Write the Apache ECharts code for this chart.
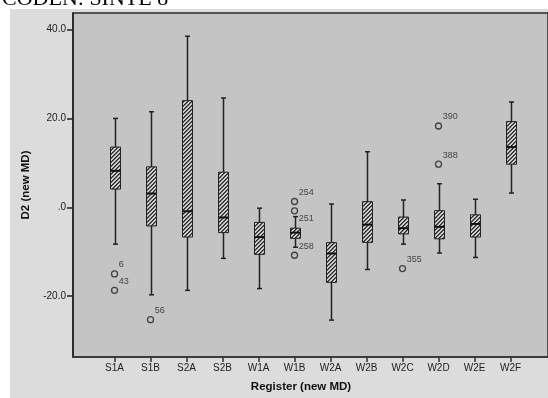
<!DOCTYPE html>
<html>
<head>
<meta charset="utf-8">
<script src="https://cdn.jsdelivr.net/npm/echarts@6/dist/echarts.min.js"></script>
<style>
  html, body { margin: 0; padding: 0; background: #fff; }
  #chart { width: 548px; height: 398px; }
</style>
</head>
<body>
<div id="chart"></div>
<script>
// register groups on the x axis
const categories = ['S1A', 'S1B', 'S2A', 'S2B', 'W1A', 'W1B', 'W2A', 'W2B', 'W2C', 'W2D', 'W2E', 'W2F'];

// box plot statistics
const whiskerLow = [-8.3, -19.7, -18.7, -11.5, -18.3, -9.0, -25.4, -14.0, -8.3, -10.3, -11.3, 3.2];
const q1 = [4.1, -4.2, -6.7, -5.7, -10.6, -7.0, -16.9, -7.9, -6.0, -7.1, -6.7, 9.7];
const median = [8.2, 3.1, -0.9, -2.3, -6.7, -5.7, -10.4, -3.9, -4.7, -4.4, -3.75, 13.55];
const q3 = [13.55, 9.1, 24.0, 7.9, -3.4, -4.7, -7.95, 1.26, -2.2, -0.76, -1.7, 19.3];
const whiskerHigh = [20.0, 21.5, 38.5, 24.6, -0.2, -2.1, 0.74, 12.5, 1.64, 5.3, 1.8, 23.7];

// outliers with their case numbers
const outlierGroup = ['S1A', 'S1A', 'S1B', 'W1B', 'W1B', 'W1B', 'W2C', 'W2D', 'W2D'];
const outlierValue = [-15.0, -18.7, -25.3, 1.3, -0.8, -10.8, -13.8, 18.3, 9.7];
const outlierCase = ['6', '43', '56', '254', '251', '258', '355', '390', '388'];

const yTicks = [-20, 0, 20, 40];

// diagonal hatch used to fill the boxes
const makeHatch = () => {
  const c = document.createElement('canvas');
  c.width = 4;
  c.height = 4;
  const ctx = c.getContext('2d');
  const img = ctx.createImageData(4, 4);
  for (let y = 0; y < 4; y++) {
    for (let x = 0; x < 4; x++) {
      const k = (x + y) % 4;
      const v = k === 0 ? 40 : k === 1 ? 95 : k === 2 ? 215 : 190;
      const p = (y * 4 + x) * 4;
      img.data[p] = v;
      img.data[p + 1] = v;
      img.data[p + 2] = v;
      img.data[p + 3] = 255;
    }
  }
  ctx.putImageData(img, 0, 0);
  return c;
};
const hatch = { image: makeHatch(), repeat: 'repeat' };

const boxData = categories.map((c, i) => [i, whiskerLow[i], q1[i], median[i], q3[i], whiskerHigh[i]]);

const labelDy = { '251': 8 };
const outlierData = outlierGroup.map((g, k) => ({
  value: [categories.indexOf(g), outlierValue[k], outlierCase[k]],
  label: { offset: [0, labelDy[outlierCase[k]] !== undefined ? labelDy[outlierCase[k]] : -9] }
}));

const chart = echarts.init(document.getElementById('chart'), null, { renderer: 'canvas' });

const renderBox = (params, api) => {
  const i = api.value(0);
  const lo = api.coord([i, api.value(1)]);
  const b1 = api.coord([i, api.value(2)]);
  const md = api.coord([i, api.value(3)]);
  const b3 = api.coord([i, api.value(4)]);
  const hi = api.coord([i, api.value(5)]);
  const x = Math.round(lo[0]) + 0.5;
  const half = 5;
  const cap = 2.5;
  const dark = '#222';
  return {
    type: 'group',
    children: [
      { type: 'line', shape: { x1: x, y1: hi[1], x2: x, y2: lo[1] }, style: { stroke: dark, lineWidth: 1.5 } },
      { type: 'line', shape: { x1: x - cap, y1: hi[1], x2: x + cap, y2: hi[1] }, style: { stroke: dark, lineWidth: 1.5 } },
      { type: 'line', shape: { x1: x - cap, y1: lo[1], x2: x + cap, y2: lo[1] }, style: { stroke: dark, lineWidth: 1.5 } },
      {
        type: 'rect',
        shape: { x: x - half, y: b3[1], width: half * 2, height: b1[1] - b3[1] },
        style: { fill: hatch, stroke: dark, lineWidth: 1 }
      },
      { type: 'line', shape: { x1: x - half, y1: md[1], x2: x + half, y2: md[1] }, style: { stroke: '#111', lineWidth: 2 } }
    ]
  };
};

chart.setOption({
  animation: false,
  graphic: [
    {
      type: 'text',
      z: -2,
      style: { text: 'CODEN: SINTE 8', x: 2, y: -1, verticalAlign: 'middle', font: '22px "Liberation Serif"', fill: '#000' }
    },
    {
      type: 'rect',
      z: -1,
      shape: { x: 10, y: 9, width: 560, height: 400 },
      style: { fill: '#dcdcdc' },
      silent: true
    }
  ],
  grid: {
    show: true,
    left: 73,
    top: 13,
    right: -2,
    bottom: 41,
    backgroundColor: '#c4c4c4',
    borderColor: '#2a2a2a',
    borderWidth: 1.5
  },
  xAxis: {
    type: 'value',
    min: -1.1535,
    max: 12.041,
    name: 'Register (new MD)',
    nameLocation: 'middle',
    nameGap: 24,
    nameTextStyle: { fontFamily: 'Liberation Sans', fontWeight: 'bold', fontSize: 11.5, color: '#111', padding: [0, 19, 0, 0] },
    splitLine: { show: false },
    axisLine: { show: true, onZero: false, lineStyle: { color: '#333', width: 1.5 } },
    axisTick: { show: true, length: 5, customValues: categories.map((c, i) => i), lineStyle: { color: '#333', width: 1.5 } },
    axisLabel: {
      customValues: categories.map((c, i) => i),
      formatter: v => categories[v],
      margin: 6,
      fontFamily: 'Liberation Sans',
      fontSize: 10,
      color: '#222'
    }
  },
  yAxis: {
    type: 'value',
    min: -33.7,
    max: 43.73,
    name: 'D2 (new MD)',
    nameLocation: 'middle',
    nameGap: 33,
    nameTextStyle: { fontFamily: 'Liberation Sans', fontWeight: 'bold', fontSize: 11.5, color: '#111' },
    splitLine: { show: false },
    axisLine: { show: true, onZero: false, lineStyle: { color: '#222', width: 1.5 } },
    axisTick: { show: true, length: 6, customValues: yTicks, lineStyle: { color: '#222', width: 1.5 } },
    axisLabel: {
      customValues: yTicks,
      formatter: v => (v === 0 ? '.0' : v.toFixed(1)),
      margin: 7,
      fontFamily: 'Liberation Sans',
      fontSize: 10,
      color: '#222'
    }
  },
  series: [
    {
      type: 'custom',
      renderItem: renderBox,
      encode: { x: 0, y: [1, 2, 3, 4, 5] },
      data: boxData,
      z: 3
    },
    {
      type: 'scatter',
      symbol: 'circle',
      symbolSize: 6,
      itemStyle: { color: 'rgba(0,0,0,0)', borderColor: '#222', borderWidth: 1.3 },
      label: {
        show: true,
        position: 'right',
        distance: 0.5,
        formatter: p => p.value[2],
        fontFamily: 'Liberation Sans',
        fontSize: 9,
        color: '#222'
      },
      data: outlierData,
      z: 4
    }
  ]
});
</script>
</body>
</html>
